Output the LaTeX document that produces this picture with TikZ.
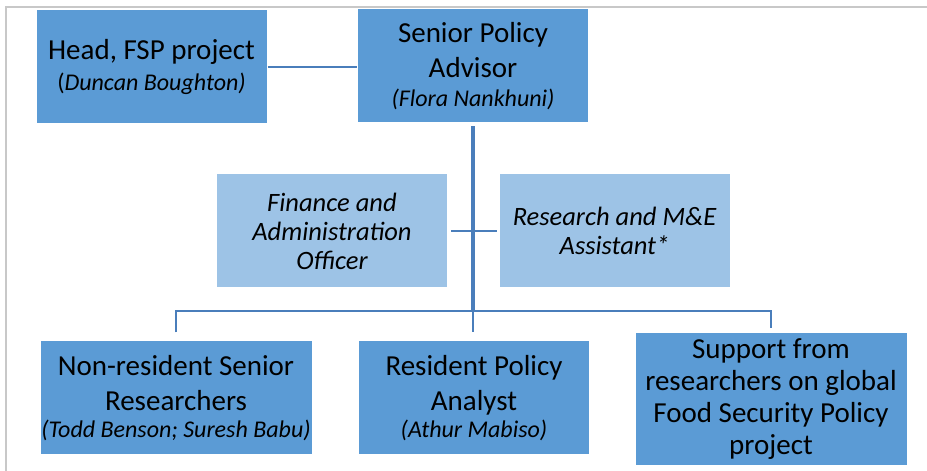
\documentclass[tikz,border=0pt]{standalone}
\usepackage{fontspec}
\setmainfont{Carlito}
\usepackage{tikz}
\usetikzlibrary{positioning, calc}
\definecolor{boxblue}{HTML}{5B9BD5}
\definecolor{paleblue}{HTML}{9DC3E6}
\definecolor{linkblue}{HTML}{4A7EBB}
\definecolor{framegray}{HTML}{C8C8C8}

\tikzset{
  darkbox/.style={draw=white, line width=1pt, fill=boxblue, text=black, inner sep=0pt, align=center, font=\fontsize{29}{35}\selectfont},
  lightbox/.style={darkbox, fill=paleblue, font=\fontsize{26.5}{29}\selectfont\itshape},
  link/.style={linkblue, line width=2.5pt},
  trunk/.style={linkblue, line width=3.5pt}
}
\newcommand{\staffname}[1]{{\fontsize{24}{29}\selectfont\itshape #1}}

\begin{document}
\begin{tikzpicture}[x=1pt, y=1pt]
  \useasboundingbox (0,0) rectangle (927,471);
  \draw[framegray, line width=1.5pt] (6,0) -- (6,464) -- (927,464);

  \pgfmathsetmacro{\boxw}{231}
  \pgfmathsetmacro{\widew}{272}
  \pgfmathsetmacro{\boxh}{114}

  % top row
  \node[darkbox, minimum width=\boxw pt, minimum height=\boxh pt] (head) at (151.5,404)
    {Head, FSP project\\[-4pt]{\fontsize{24}{29}\selectfont(\textit{Duncan Boughton)}}};
  \node[darkbox, minimum width=\boxw pt, minimum height=\boxh pt] (senior) at (473,405)
    {Senior Policy\\Advisor\\[-6pt]\staffname{(Flora Nankhuni)}};

  % middle row
  \node[lightbox, minimum width=\boxw pt, minimum height=\boxh pt] (finance) at (332,240)
    {Finance and\\Administration\\Officer};
  \node[lightbox, minimum width=\boxw pt, minimum height=\boxh pt] (research) at (614.5,240)
    {Research and M\&E\\Assistant*};

  % bottom row
  \node[darkbox, minimum width=\widew pt, minimum height=\boxh pt] (nonres) at (176,73)
    {Non-resident Senior\\Researchers\\[-8pt]\staffname{(Todd Benson; Suresh Babu)}};
  \node[darkbox, minimum width=\boxw pt, minimum height=\boxh pt] (resident) at (474,73)
    {Resident Policy\\Analyst\\[-8pt]\staffname{(Athur Mabiso)}};
  \node[darkbox, minimum width=\widew pt, minimum height=133pt, font=\fontsize{29}{32}\selectfont] (support) at (771,71.5)
    {Support from\\researchers on global\\Food Security Policy\\project};

  % connectors
  \coordinate (bus) at (senior.south |- 0,160);
  \draw[link] (head.east) -- (head.east -| senior.west);
  \draw[trunk] ([yshift=-3pt]senior.south) -- (bus);
  \draw[link] ([xshift=3pt]finance.east) -- ([xshift=-2pt]research.west);
  \draw[link] ([yshift=8pt]nonres.north) |- (bus) -| ([yshift=4pt]support.north);
  \draw[link] (bus) -- ([yshift=8pt]bus |- resident.north);
\end{tikzpicture}
\end{document}
